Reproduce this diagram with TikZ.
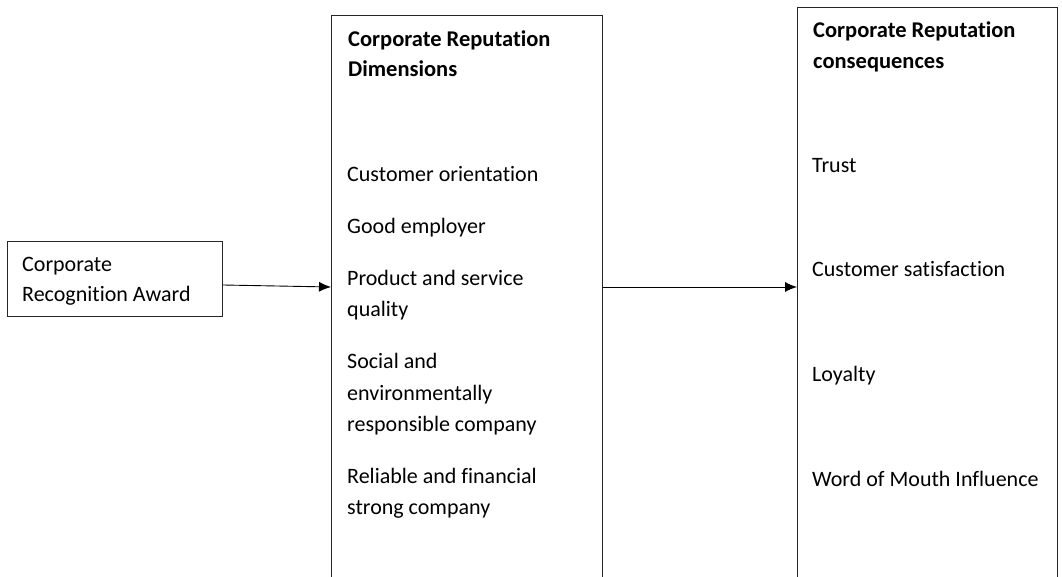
\documentclass[tikz,border=0pt]{standalone}
\usepackage{fontspec}
\setmainfont{Carlito}[Ligatures=NoCommon]
\usetikzlibrary{arrows.meta}
\begin{document}
\begin{tikzpicture}[x=1pt,y=-1pt,
  box/.style={draw=black!85, line width=1.1pt, inner sep=0pt, anchor=north west},
  txt/.style={anchor=base west, inner sep=0pt, align=left, font=\fontsize{22}{31.5}\selectfont},
  head/.style={anchor=base west, inner sep=0pt, align=left, font=\fontsize{22.5}{30.5}\selectfont\bfseries},
  arr/.style={line width=0.9pt, -{Latex[length=12pt,width=10pt]}}]
\clip (0,0) rectangle (1062,577);
\fill[white] (0,0) rectangle (1062,577);
% boxes
\node[box, minimum width=215pt, minimum height=75pt] (award) at (7,241) {};
\node[box, minimum width=271pt, minimum height=600pt] (dims) at (331,15) {};
\node[box, minimum width=260pt, minimum height=610pt] (cons) at (797,7) {};
% left box text (anchored at the baseline of its last line)
\node[txt, font=\fontsize{22}{30}\selectfont] (awardtxt) at (22,301.7) {Corporate\\Recognition Award};
% middle box text
\node[head] (dimshead) at (348,77) {Corporate Reputation\\Dimensions};
\node[txt] (d1) at (347,181.7) {Customer orientation};
\node[txt] (d2) at (347,233.3) {Good employer};
\node[txt] (d3) at (347,316.7) {Product and service\\quality};
\node[txt] (d4) at (347,431.5) {Social and\\environmentally\\responsible company};
\node[txt] (d5) at (347,514.7) {Reliable and financial\\strong company};
% right box text
\node[head] (conshead) at (813,68.3) {Corporate Reputation\\consequences};
\node[txt] (c1) at (812,172.3) {Trust};
\node[txt] (c2) at (812,276.7) {Customer satisfaction};
\node[txt] (c3) at (812,381.7) {Loyalty};
\node[txt] (c4) at (812,486.7) {Word of Mouth Influence};
% connectors
\draw[arr] (award.east |- 0,285) -- (dims.west |- 0,287);
\draw[arr] (dims.east |- 0,287) -- (cons.west |- 0,287);
\end{tikzpicture}
\end{document}
